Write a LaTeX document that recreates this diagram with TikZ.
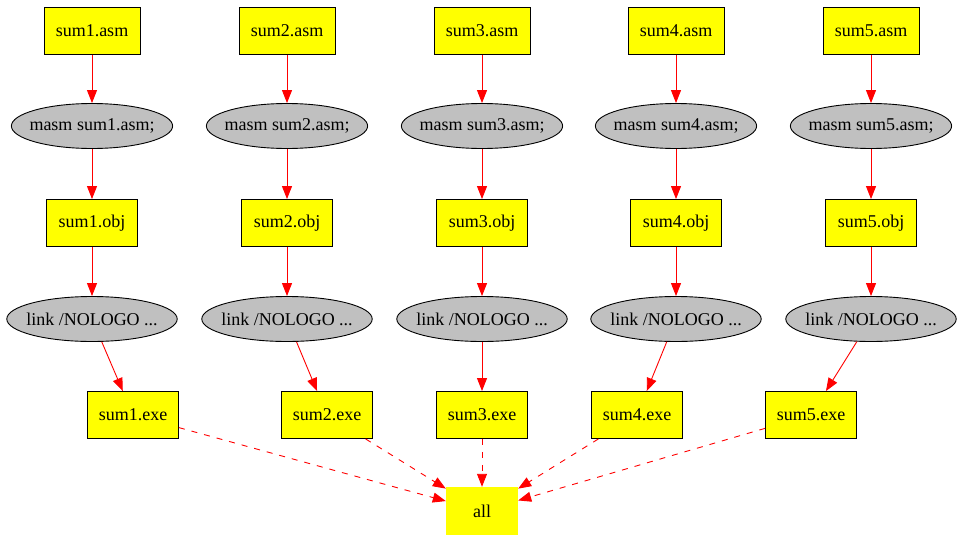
\documentclass[tikz,border=0pt]{standalone}
\usepackage{fontspec}
\setmainfont{Liberation Serif}
\usetikzlibrary{shapes.geometric,arrows.meta}
\definecolor{cmdgray}{RGB}{192,192,192}
\definecolor{fileyellow}{RGB}{255,255,0}
\definecolor{depred}{RGB}{255,0,0}

\tikzset{
  file/.style={draw, line width=0.9pt, fill=fileyellow, inner sep=0pt, minimum width=91pt, minimum height=47pt},
  cmd/.style={draw, line width=0.9pt, ellipse, fill=cmdgray, inner xsep=-5.5pt, inner ysep=0pt, minimum height=45pt},
  dep/.style={depred, line width=0.9pt, -{Triangle[length=13pt,width=10pt]}},
}

\begin{document}
\begin{tikzpicture}[x=1pt, y=-1pt, font=\fontsize{18}{20}\selectfont]
  \useasboundingbox (0,0) rectangle (963,541);

  % Target
  \node[fill=fileyellow, inner sep=0pt, minimum width=72pt, minimum height=48pt] (all) at (482,511) {all};

  % One column per source file
  \foreach \i/\x/\e in {1/92/133, 2/287/327, 3/482/482, 4/676/637, 5/871/811} {
    \node[file, minimum width=96pt] (asm\i) at (\x,31) {sum\i.asm};
    \node[cmd] (masm\i) at (\x,126) {masm sum\i.asm;};
    \node[file] (obj\i) at (\x,223) {sum\i.obj};
    \node[cmd] (link\i) at (\x,319) {link /NOLOGO ...};
    \node[file] (exe\i) at (\e,415) {sum\i.exe};

    \draw[dep] (asm\i) -- (masm\i);
    \draw[dep] (masm\i) -- (obj\i);
    \draw[dep] (obj\i) -- (link\i);
    \draw[dep] (link\i) -- (exe\i);
    \draw[dep, dash pattern=on 6pt off 7pt] (exe\i) -- (all);
  }
\end{tikzpicture}
\end{document}
